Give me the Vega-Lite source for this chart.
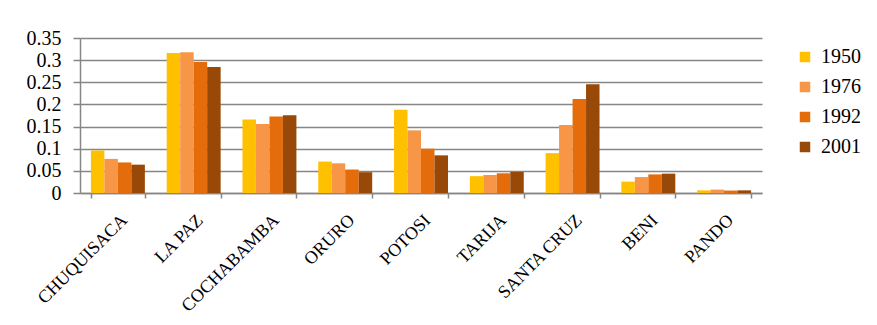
{
  "$schema": "https://vega.github.io/schema/vega-lite/v6.json",
  "autosize": {"type": "none"},
  "padding": {"left": 80, "top": 38, "right": 115, "bottom": 132},
  "width": 682,
  "height": 155,
  "background": "#ffffff",
  "config": {
    "view": {"stroke": null},
    "font": "Liberation Serif",
    "axis": {"labelFont": "Liberation Serif"},
    "legend": {"labelFont": "Liberation Serif"}
  },
  "data": {
    "values": [
      {"dept": "CHUQUISACA", "year": "1950", "value": 0.096},
      {"dept": "CHUQUISACA", "year": "1976", "value": 0.077},
      {"dept": "CHUQUISACA", "year": "1992", "value": 0.069},
      {"dept": "CHUQUISACA", "year": "2001", "value": 0.064},
      {"dept": "LA PAZ", "year": "1950", "value": 0.316},
      {"dept": "LA PAZ", "year": "1976", "value": 0.318},
      {"dept": "LA PAZ", "year": "1992", "value": 0.296},
      {"dept": "LA PAZ", "year": "2001", "value": 0.2845},
      {"dept": "COCHABAMBA", "year": "1950", "value": 0.166},
      {"dept": "COCHABAMBA", "year": "1976", "value": 0.156},
      {"dept": "COCHABAMBA", "year": "1992", "value": 0.1725},
      {"dept": "COCHABAMBA", "year": "2001", "value": 0.1755},
      {"dept": "ORURO", "year": "1950", "value": 0.071},
      {"dept": "ORURO", "year": "1976", "value": 0.067},
      {"dept": "ORURO", "year": "1992", "value": 0.053},
      {"dept": "ORURO", "year": "2001", "value": 0.047},
      {"dept": "POTOSI", "year": "1950", "value": 0.188},
      {"dept": "POTOSI", "year": "1976", "value": 0.1415},
      {"dept": "POTOSI", "year": "1992", "value": 0.100},
      {"dept": "POTOSI", "year": "2001", "value": 0.085},
      {"dept": "TARIJA", "year": "1950", "value": 0.038},
      {"dept": "TARIJA", "year": "1976", "value": 0.0407},
      {"dept": "TARIJA", "year": "1992", "value": 0.0445},
      {"dept": "TARIJA", "year": "2001", "value": 0.0475},
      {"dept": "SANTA CRUZ", "year": "1950", "value": 0.090},
      {"dept": "SANTA CRUZ", "year": "1976", "value": 0.1535},
      {"dept": "SANTA CRUZ", "year": "1992", "value": 0.212},
      {"dept": "SANTA CRUZ", "year": "2001", "value": 0.2455},
      {"dept": "BENI", "year": "1950", "value": 0.0257},
      {"dept": "BENI", "year": "1976", "value": 0.036},
      {"dept": "BENI", "year": "1992", "value": 0.042},
      {"dept": "BENI", "year": "2001", "value": 0.0437},
      {"dept": "PANDO", "year": "1950", "value": 0.006},
      {"dept": "PANDO", "year": "1976", "value": 0.0077},
      {"dept": "PANDO", "year": "1992", "value": 0.0055},
      {"dept": "PANDO", "year": "2001", "value": 0.006}
    ]
  },
  "mark": {"type": "bar"},
  "encoding": {
    "x": {
      "field": "dept",
      "type": "nominal",
      "sort": null,
      "scale": {"paddingInner": 0.288, "paddingOuter": 0.144},
      "axis": {
        "title": null,
        "labelAngle": -45,
        "labelFontSize": 18,
        "labelColor": "#000000",
        "labelPadding": 13,
        "labelLimit": 300,
        "tickBand": "extent",
        "domainColor": "#868686",
        "domainWidth": 1.5,
        "tickColor": "#868686",
        "tickSize": 5,
        "tickWidth": 1.5
      }
    },
    "y": {
      "field": "value",
      "type": "quantitative",
      "scale": {"domain": [0, 0.35], "nice": false},
      "axis": {
        "title": null,
        "values": [0, 0.05, 0.1, 0.15, 0.2, 0.25, 0.3, 0.35],
        "labelExpr": "datum.value == 0 ? '0' : format(datum.value, '.2~f')",
        "labelFontSize": 20,
        "labelColor": "#000000",
        "labelPadding": 12,
        "grid": true,
        "gridColor": "#868686",
        "gridWidth": 1.5,
        "domainColor": "#868686",
        "domainWidth": 1.5,
        "tickColor": "#868686",
        "tickSize": 7,
        "tickWidth": 1.5
      }
    },
    "xOffset": {"field": "year", "type": "nominal"},
    "color": {
      "field": "year",
      "type": "nominal",
      "scale": {
        "domain": ["1950", "1976", "1992", "2001"],
        "range": ["#FFC000", "#F79646", "#E46C0A", "#984807"]
      },
      "legend": {
        "title": null,
        "orient": "none",
        "legendX": 715,
        "legendY": 9,
        "symbolType": "square",
        "symbolSize": 110,
        "symbolStrokeWidth": 0,
        "labelFontSize": 20,
        "labelColor": "#000000",
        "labelOffset": 6,
        "rowPadding": 10
      }
    }
  }
}
